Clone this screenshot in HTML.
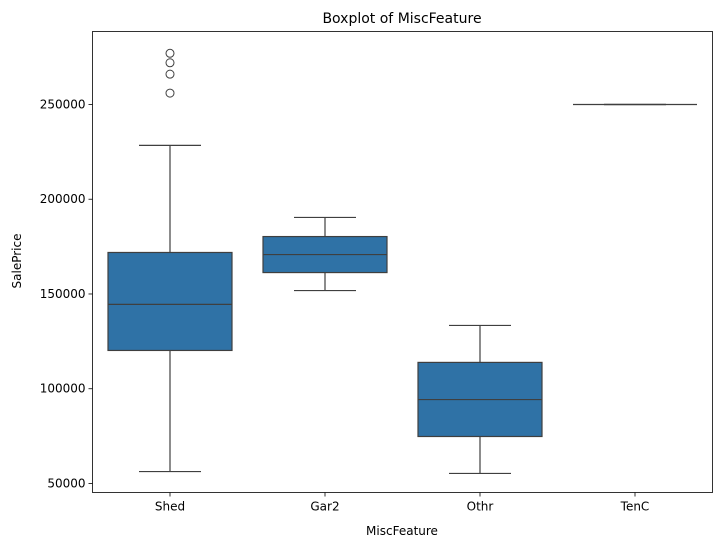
<!DOCTYPE html>
<html><head><meta charset="utf-8"><style>
body{margin:0;background:#fff;}
svg text{font-family:"DejaVu Sans","Liberation Sans",sans-serif;fill:#000;}
</style></head><body>
<svg id="chart" width="721" height="547" xmlns="http://www.w3.org/2000/svg">
<text x="402" y="23" font-size="14" text-anchor="middle">Boxplot of MiscFeature</text>
<text x="402" y="535" font-size="12" text-anchor="middle">MiscFeature</text>
<text x="21" y="261" font-size="12" text-anchor="middle" transform="rotate(-90 21 261)">SalePrice</text>
<g id="plot"></g>
<rect x="92.5" y="31.5" width="620" height="461" fill="none" stroke="#000" stroke-width="0.8"/>
</svg>
<script>
const categories=["Shed","Gar2","Othr","TenC"];
const whiskerLow=[56300,151800,55300,250000];
const q1=[120200,161300,74800,250000];
const medians=[144500,170800,94300,250000];
const q3=[171900,180300,113900,250000];
const whiskerHigh=[228400,190400,133400,250000];
const outliers=[[277000,272000,266000,256000],[],[],[]];
const yTicks=[50000,100000,150000,200000,250000];
const yMin=45250,yMax=288500;
const L=92.5,R=712.5,T=31.5,B=492.5;
const ns="http://www.w3.org/2000/svg";
const g=document.getElementById('plot');
const y=v=>B-(v-yMin)/(yMax-yMin)*(B-T);
const step=(R-L)/categories.length;
const x=i=>L+step*(i+0.5);
const bw=step*0.8;
function mk(t,a){const e=document.createElementNS(ns,t);for(const k in a)e.setAttribute(k,a[k]);g.appendChild(e);return e;}
yTicks.forEach(v=>{
 const tk=mk('line',{x1:L-4,x2:L,y1:y(v),y2:y(v),stroke:'#000','stroke-width':0.8});
 
 
 const t=mk('text',{x:L-7,y:y(v)+4,'font-size':12,'text-anchor':'end'});t.textContent=v;
 
 
});
categories.forEach((c,i)=>{
 const cx=x(i);
 const tk=mk('line',{x1:cx,x2:cx,y1:B,y2:B+4,stroke:'#000','stroke-width':0.8});
 
 
 const t=mk('text',{x:cx,y:B+18,'font-size':12,'text-anchor':'middle'});t.textContent=c;
 
 
 const st={stroke:'#3f3f3f','stroke-width':1.2};
 const w1=mk('line',Object.assign({x1:cx,x2:cx,y1:y(whiskerLow[i]),y2:y(q1[i])},st));
 
 
 const w2=mk('line',Object.assign({x1:cx,x2:cx,y1:y(q3[i]),y2:y(whiskerHigh[i])},st));
 
 
 const c1=mk('line',Object.assign({x1:cx-bw/4,x2:cx+bw/4,y1:y(whiskerLow[i]),y2:y(whiskerLow[i])},st));
 
 
 const c2=mk('line',Object.assign({x1:cx-bw/4,x2:cx+bw/4,y1:y(whiskerHigh[i]),y2:y(whiskerHigh[i])},st));
 
 
 const b=mk('rect',{x:cx-bw/2,y:y(q3[i]),width:bw,height:Math.max(0,y(q1[i])-y(q3[i])),fill:'#2f72a6',stroke:'#3f3f3f','stroke-width':1.2});
 
 
 const m=mk('line',Object.assign({x1:cx-bw/2,x2:cx+bw/2,y1:y(medians[i]),y2:y(medians[i])},st));
 
 
 outliers[i].forEach(v=>{
  const o=mk('circle',{cx:cx,cy:y(v),r:4,fill:'none',stroke:'#3f3f3f','stroke-width':1});
  
  
 });
});
</script>
</body></html>
